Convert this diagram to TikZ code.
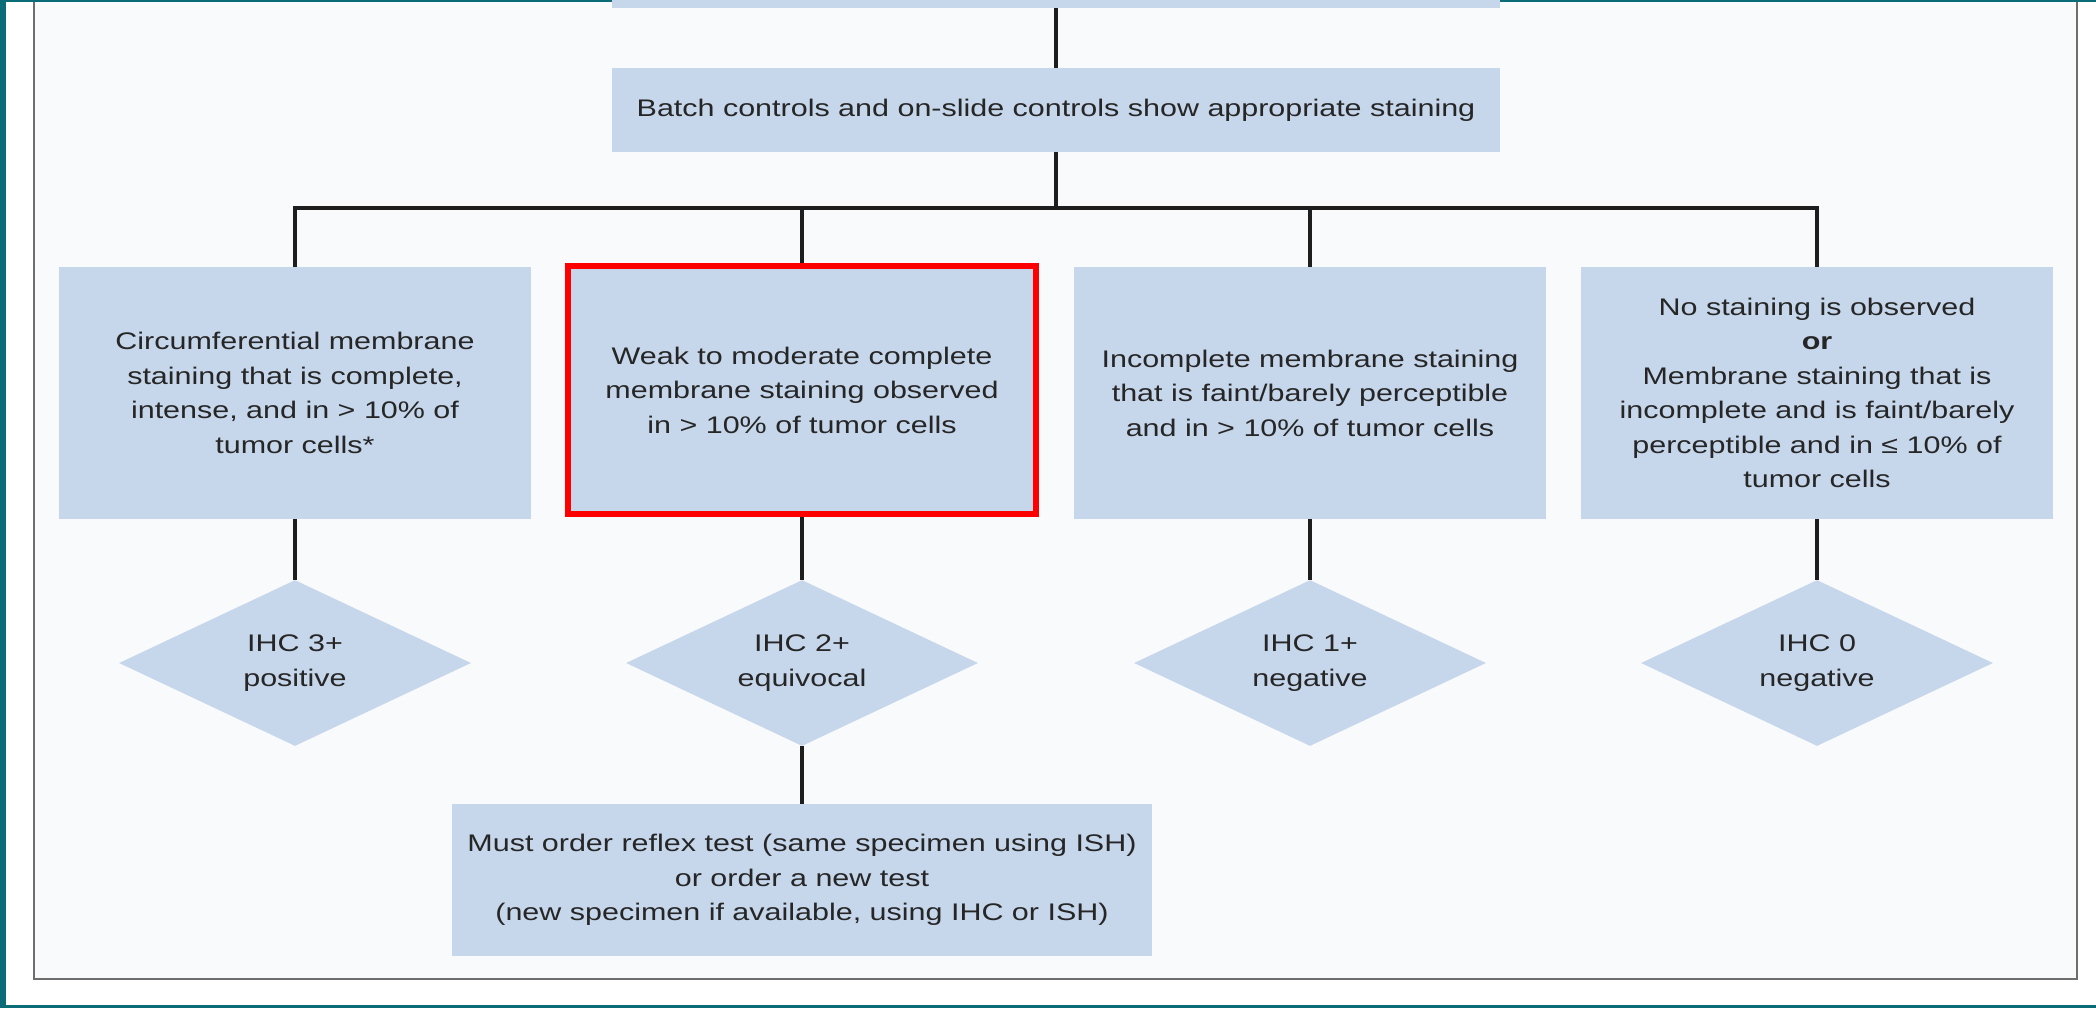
\documentclass[tikz,border=0pt]{standalone}
\usepackage{fontspec}
\setmainfont{Liberation Sans}[FakeStretch=1.27]
\usetikzlibrary{shapes.geometric}
\definecolor{boxblue}{HTML}{C6D6EB}
\definecolor{pagebg}{HTML}{F8FAFC}
\definecolor{edgeteal}{HTML}{0B6C78}
\definecolor{framegray}{HTML}{6E6E6E}
\definecolor{linec}{HTML}{1E1E1E}
\definecolor{txt}{HTML}{262626}
\newcommand{\boxfont}{\fontsize{12pt}{17.25pt}\selectfont}
\begin{document}
\begin{tikzpicture}[x=0.5pt,y=-0.5pt,
  box/.style={rectangle, fill=boxblue, draw=none, inner sep=0pt, align=center, text=txt, font=\boxfont},
  rowbox/.style={box, minimum width=236pt, minimum height=126pt},
  dia/.style={diamond, fill=boxblue, draw=none, inner sep=0pt, aspect=2.12, minimum width=176pt, minimum height=83pt, align=center, text=txt, font=\boxfont},
  conn/.style={draw=linec, line width=1.75pt},
  redframe/.style={draw=red, line width=3pt}
]
\useasboundingbox (0,0) rectangle (2096,1008);
\clip (0,0) rectangle (2096,1008);
% background and frame
\fill[white] (0,0) rectangle (2096,1008);
\fill[pagebg] (34,-10) rectangle (2077,979);
\draw[framegray, line width=1.25pt] (34,-10) -- (34,979) -- (2077,979) -- (2077,-10);
\fill[edgeteal] (0,0) rectangle (6,1008);
\fill[edgeteal] (0,0) rectangle (2096,2);
\fill[edgeteal] (0,1005) rectangle (2096,1008);

% nodes
\node[box, minimum width=444pt, minimum height=19pt] (top) at (1056,-11) {};
\node[box, minimum width=444pt, minimum height=42pt] (batch) at (1056,110)
  {Batch controls and on-slide controls show appropriate staining};

\node[rowbox] (b1) at (295,393)
  {Circumferential membrane\\staining that is complete,\\intense, and in > 10\% of\\tumor cells*};
\node[box, redframe, minimum width=234pt, minimum height=124pt] (b2) at (802,390)
  {Weak to moderate complete\\membrane staining observed\\in > 10\% of tumor cells};
\node[rowbox] (b3) at (1310,393)
  {Incomplete membrane staining\\that is faint/barely perceptible\\and in > 10\% of tumor cells};
\node[rowbox] (b4) at (1817,393)
  {No staining is observed\\\textbf{or}\\Membrane staining that is\\incomplete and is faint/barely\\perceptible and in ≤ 10\% of\\tumor cells};

\node[dia] (d1) at (295,663) {IHC 3+\\positive};
\node[dia] (d2) at (802,663) {IHC 2+\\equivocal};
\node[dia] (d3) at (1310,663) {IHC 1+\\negative};
\node[dia] (d4) at (1817,663) {IHC 0\\negative};

\node[box, minimum width=350pt, minimum height=76pt] (reflex) at (802,880)
  {Must order reflex test (same specimen using ISH)\\or order a new test\\(new specimen if available, using IHC or ISH)};

\coordinate (hub) at (1056,208);

% connectors
\draw[conn] (top.south) -- (batch.north);
\draw[conn] (batch.south) -- (hub);
\draw[conn] (b1.north) |- (hub) -| (b4.north);
\draw[conn] (b2.north) -- (b2.north |- hub);
\draw[conn] (b3.north) -- (b3.north |- hub);
\draw[conn] (b1.south) -- (d1.north);
\draw[conn] (b2.south) -- (d2.north);
\draw[conn] (b3.south) -- (d3.north);
\draw[conn] (b4.south) -- (d4.north);
\draw[conn] (d2.south) -- (reflex.north);
\end{tikzpicture}
\end{document}
